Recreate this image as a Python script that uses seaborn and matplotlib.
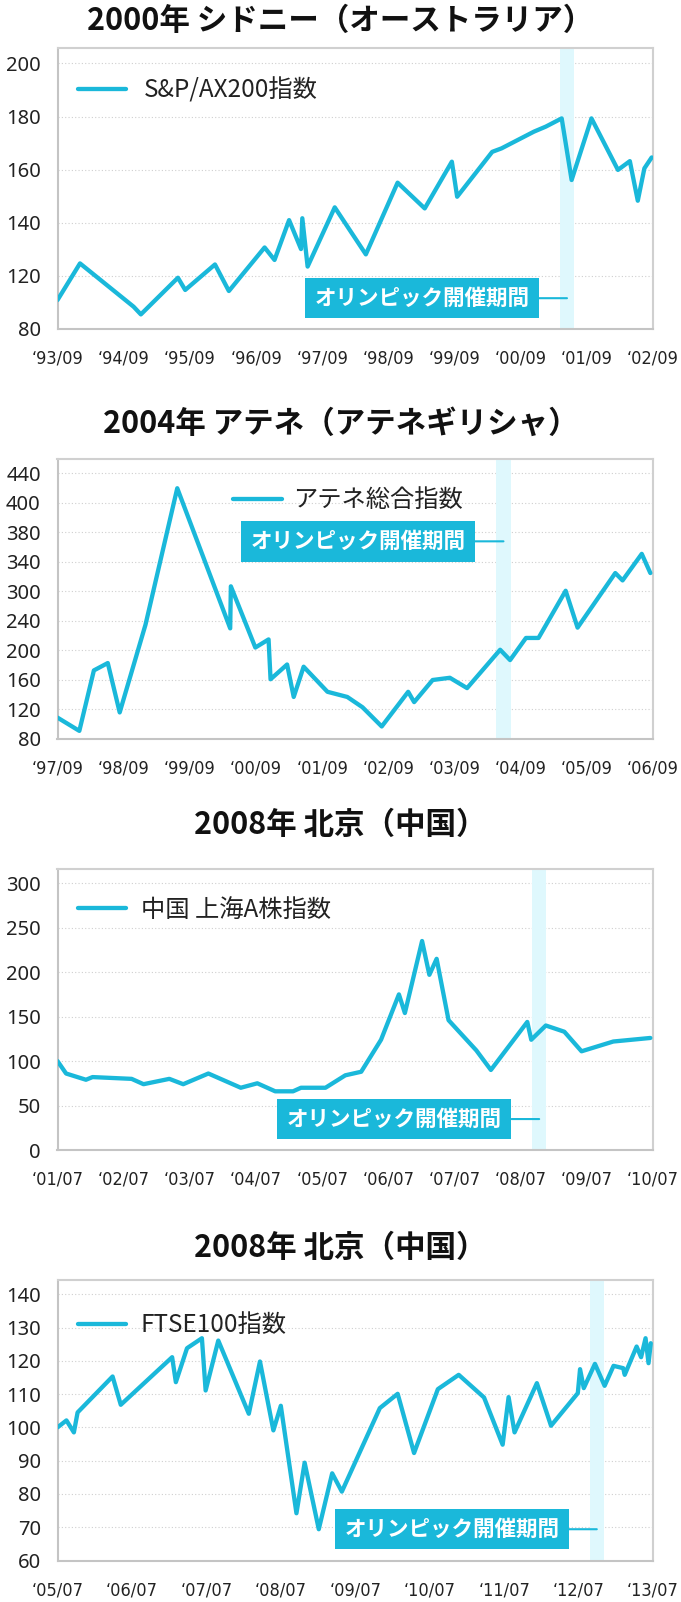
import numpy as np
import pandas as pd
import matplotlib
matplotlib.use("Agg")
import matplotlib.pyplot as plt
from matplotlib import font_manager as fm
import seaborn as sns

# ---------------- data ----------------
olympic_text = "オリンピック開催期間"

# Panel 1: Sydney
syd_title = "2000年 シドニー（オーストラリア）"
syd_label = "S&P/AX200指数"
syd_x = [1993.67, 1994.01, 1994.82, 1994.93, 1995.49, 1995.60, 1996.05, 1996.26,
         1996.80, 1996.95, 1997.17, 1997.35, 1997.37, 1997.45, 1997.86, 1998.33,
         1998.81, 1999.22, 1999.63, 1999.71, 2000.24, 2000.38, 2000.87, 2001.05,
         2001.29, 2001.44, 2001.74, 2002.14, 2002.32, 2002.44, 2002.54, 2002.65]
syd_y = [110.9, 124.7, 108.4, 105.5, 119.3, 114.7, 124.3, 114.3,
         130.7, 126.0, 141.0, 130.1, 141.7, 123.5, 145.8, 128.1,
         155.1, 145.4, 163.0, 149.8, 166.7, 168.0, 174.3, 176.2,
         179.3, 156.1, 179.3, 159.9, 163.2, 148.3, 160.5, 164.6]
syd_xticks = ["‘93/09", "‘94/09", "‘95/09", "‘96/09", "‘97/09", "‘98/09",
              "‘99/09", "‘00/09", "‘01/09", "‘02/09"]
syd_ytick_pos = [100, 120, 140, 160, 180, 200]
syd_ytick_lab = ["80", "120", "140", "160", "180", "200"]
syd_band = (2001.26, 2001.48)

# Panel 2: Athens
ath_title = "2004年 アテネ（アテネギリシャ）"
ath_label = "アテネ総合指数"
ath_x = [1997.67, 1998.00, 1998.22, 1998.43, 1998.61, 1999.00, 1999.48, 2000.28,
         2000.29, 2000.66, 2000.86, 2000.89, 2001.14, 2001.24, 2001.39, 2001.75,
         2002.05, 2002.28, 2002.57, 2002.97, 2003.06, 2003.34, 2003.60, 2003.86,
         2004.36, 2004.51, 2004.75, 2004.94, 2005.35, 2005.53, 2006.10, 2006.21,
         2006.50, 2006.63]
ath_y = [109, 91, 173, 183, 116, 235, 420, 230,
         287, 204, 215, 161, 181, 137, 178, 144,
         137, 123, 97, 144, 130, 160, 163, 149,
         201, 187, 217, 217, 281, 231, 305, 295,
         331, 305]
ath_xticks = ["‘97/09", "‘98/09", "‘99/09", "‘00/09", "‘01/09", "‘02/09",
              "‘03/09", "‘04/09", "‘05/09", "‘06/09"]
ath_ytick_pos = [80, 120, 160, 200, 240, 280, 320, 360, 400, 440]
ath_ytick_lab = ["80", "120", "160", "200", "240", "300", "340", "380", "400", "440"]
ath_band = (2004.30, 2004.52)

# Panel 3: Shanghai
chn_title = "2008年 北京（中国）"
chn_label = "中国 上海A株指数"
chn_x = [2001.50, 2001.63, 2001.93, 2002.03, 2002.62, 2002.80, 2003.19, 2003.40,
         2003.78, 2004.27, 2004.52, 2004.79, 2005.06, 2005.18, 2005.55, 2005.85,
         2006.09, 2006.39, 2006.66, 2006.75, 2007.01, 2007.12, 2007.23, 2007.41,
         2007.83, 2008.05, 2008.60, 2008.66, 2008.88, 2009.16, 2009.42, 2009.90,
         2010.46]
chn_y = [100, 86, 79, 82, 80, 74, 80, 74,
         86, 70, 75, 66, 66, 70, 70, 84,
         88, 124, 175, 154, 235, 197, 215, 146,
         112, 90, 144, 124, 140, 133, 111, 122,
         126]
chn_xticks = ["‘01/07", "‘02/07", "‘03/07", "‘04/07", "‘05/07", "‘06/07",
              "‘07/07", "‘08/07", "‘09/07", "‘10/07"]
chn_ytick_pos = [0, 50, 100, 150, 200, 250, 300]
chn_ytick_lab = ["0", "50", "100", "150", "200", "250", "300"]
chn_band = (2008.67, 2008.89)

# Panel 4: FTSE
ftse_title = "2008年 北京（中国）"
ftse_label = "FTSE100指数"
ftse_x = [2005.50, 2005.62, 2005.72, 2005.77, 2006.24, 2006.35, 2007.04, 2007.09,
          2007.24, 2007.44, 2007.49, 2007.66, 2008.07, 2008.22, 2008.40, 2008.50,
          2008.71, 2008.82, 2009.01, 2009.19, 2009.32, 2009.83, 2010.07, 2010.29,
          2010.61, 2010.89, 2011.23, 2011.48, 2011.56, 2011.64, 2011.94, 2012.13,
          2012.49, 2012.52, 2012.57, 2012.72, 2012.85, 2012.97, 2013.10, 2013.12,
          2013.28, 2013.34, 2013.40, 2013.44, 2013.47]
ftse_y = [100.0, 102.1, 98.5, 104.5, 115.3, 106.8, 121.1, 113.6,
          123.8, 126.8, 111.1, 126.1, 104.1, 119.8, 99.1, 106.5,
          74.2, 89.4, 69.4, 86.2, 80.7, 105.8, 110.1, 92.3,
          111.5, 115.8, 109.0, 94.8, 109.1, 98.5, 113.3, 100.5,
          110.3, 117.5, 111.8, 119.1, 112.5, 118.5, 117.8, 115.8,
          124.3, 121.1, 126.8, 119.3, 125.3]
ftse_xticks = ["‘05/07", "‘06/07", "‘07/07", "‘08/07", "‘09/07", "‘10/07",
               "‘11/07", "‘12/07", "‘13/07"]
ftse_ytick_pos = [60, 70, 80, 90, 100, 110, 120, 130, 140]
ftse_ytick_lab = ["60", "70", "80", "90", "100", "110", "120", "130", "140"]
ftse_band = (2012.65, 2012.84)

# ---------------- style ----------------
CYAN = "#1ab8da"
BAND = "#dff8fd"
GRID = "#cfcfcf"
SPINE = "#d0d0d0"

sns.set_theme(style="white")
plt.rcParams['font.family'] = ['Noto Sans CJK JP', 'DejaVu Sans']

# pick a narrow font for the tick labels if one is installed
_names = {f.name for f in fm.fontManager.ttflist}
_cond = [f for f in fm.fontManager.ttflist
         if f.name == 'DejaVu Sans' and 'condensed' in f.fname.lower()
         and 'bold' not in f.fname.lower() and 'oblique' not in f.fname.lower()]
if 'Liberation Sans Narrow' in _names:
    xfont = fm.FontProperties(family='Liberation Sans Narrow', size=16)
elif _cond:
    xfont = fm.FontProperties(fname=_cond[0].fname, size=13)
else:
    xfont = fm.FontProperties(family='Noto Sans', size=12.8)
yfont = fm.FontProperties(family='Noto Sans', size=14.5)

fig = plt.figure(figsize=(6.81, 16.02), dpi=100)
W, H = 681.0, 1602.0
left_px, right_px = 57.5, 653.0

panels = [
    dict(title=syd_title, label=syd_label, x=syd_x, y=syd_y, xt=syd_xticks,
         x0=1993.67, yp=syd_ytick_pos, yl=syd_ytick_lab, ylim=(100, 205.8),
         band=syd_band, top=48, bot=329, ttl=20.5,
         leg=(0.034, 0.847), htp=0.7, box=(1999.18, 111.6)),
    dict(title=ath_title, label=ath_label, x=ath_x, y=ath_y, xt=ath_xticks,
         x0=1997.67, yp=ath_ytick_pos, yl=ath_ytick_lab, ylim=(80, 460.3),
         band=ath_band, top=458.5, bot=739, ttl=423.5,
         leg=(0.295, 0.852), htp=0.45, box=(2002.21, 348)),
    dict(title=chn_title, label=chn_label, x=chn_x, y=chn_y, xt=chn_xticks,
         x0=2001.5, yp=chn_ytick_pos, yl=chn_ytick_lab, ylim=(0, 316),
         band=chn_band, top=869, bot=1150, ttl=825,
         leg=(0.034, 0.855), htp=0.6, box=(2006.59, 34.8)),
    dict(title=ftse_title, label=ftse_label, x=ftse_x, y=ftse_y, xt=ftse_xticks,
         x0=2005.5, yp=ftse_ytick_pos, yl=ftse_ytick_lab, ylim=(60, 144.3),
         band=ftse_band, top=1280, bot=1560.5, ttl=1247.6,
         leg=(0.034, 0.839), htp=0.6, box=(2010.80, 69.4)),
]

for p in panels:
    ax = fig.add_axes([left_px / W, 1 - p['bot'] / H,
                       (right_px - left_px) / W, (p['bot'] - p['top']) / H])
    df = pd.DataFrame({"x": p['x'], "y": p['y']})
    n = len(p['xt'])
    ax.axvspan(p['band'][0], p['band'][1], color=BAND, lw=0, zorder=1)
    sns.lineplot(data=df, x="x", y="y", ax=ax, color=CYAN, lw=3.1,
                 estimator=None, sort=False, label=p['label'], zorder=3)
    ax.set_xlim(p['x0'], p['x0'] + n - 1)
    ax.set_ylim(*p['ylim'])
    ax.set_xticks([p['x0'] + k for k in range(n)])
    ax.set_xticklabels(p['xt'], fontproperties=xfont, color='#222222')
    ax.set_yticks(p['yp'])
    ax.set_yticklabels(p['yl'], fontproperties=yfont, color='#222222')
    ax.set_xlabel("")
    ax.set_ylabel("")
    ax.set_axisbelow(True)
    ax.yaxis.grid(True, linestyle=(0, (1, 2)), color=GRID, lw=0.8)
    ax.xaxis.grid(False)
    for s in ax.spines.values():
        s.set_color(SPINE)
        s.set_linewidth(1.5)
    ax.spines['left'].set_color('#c4c4c4')
    ax.spines['bottom'].set_color('#c4c4c4')
    ax.tick_params(axis='both', direction='out', length=6, width=1.2,
                   color='#c4c4c4')
    ax.tick_params(axis='y', pad=6)
    ax.tick_params(axis='x', pad=9)
    ax.legend(loc='center left', bbox_to_anchor=p['leg'], frameon=False,
              fontsize=17.5, handlelength=2.0, handletextpad=p['htp'],
              borderpad=0, borderaxespad=0, labelcolor='#222222')
    bmid = 0.5 * (p['band'][0] + p['band'][1])
    ax.annotate(olympic_text, xy=(bmid, p['box'][1]), xytext=p['box'],
                textcoords='data', ha='center', va='center', color='white',
                fontsize=15.5, fontweight='bold',
                bbox=dict(boxstyle='square,pad=0.45', fc=CYAN, ec='none'),
                arrowprops=dict(arrowstyle='-', color=CYAN, lw=1.5,
                                shrinkA=0, shrinkB=0),
                zorder=5)
    fig.text(0.5, 1 - p['ttl'] / H, p['title'], ha='center', va='center',
             fontsize=22, fontweight='bold', color='#111111')

fig.savefig("out.png", dpi=100)
